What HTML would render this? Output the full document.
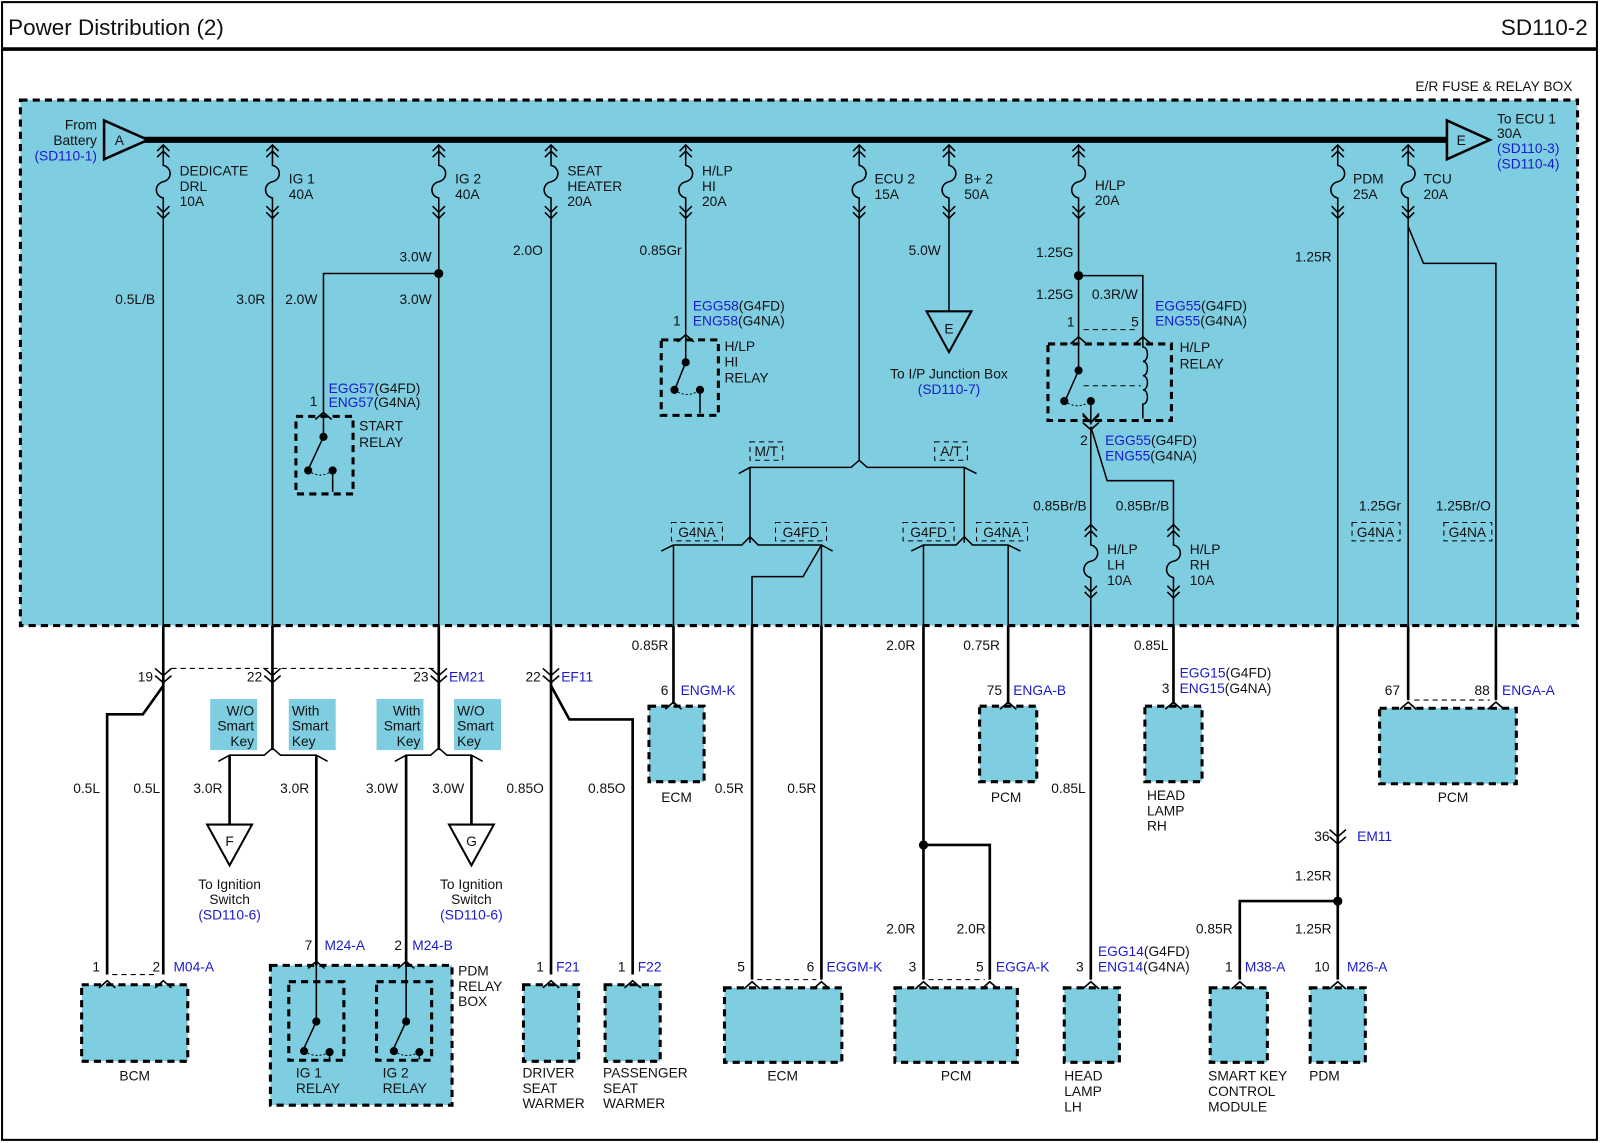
<!DOCTYPE html>
<html><head><meta charset="utf-8">
<style>
html,body{margin:0;padding:0;background:#fff;}
svg{display:block;}
text{font-family:"Liberation Sans",Arial,sans-serif;font-size:13.5px;fill:#111;}
.b{fill:#1a1acc;}
.r{text-anchor:end;}
.c{text-anchor:middle;}
.t{stroke:#000;stroke-width:1.5;fill:none;}
.k{stroke:#000;stroke-width:2.6;fill:none;}
.box{fill:#7ecde0;stroke:#000;stroke-width:3;stroke-dasharray:7,5;}
.ibox{fill:none;stroke:#000;stroke-width:3;stroke-dasharray:7,5;}
.lb{fill:none;stroke:#000;stroke-width:1;stroke-dasharray:5,4;}
.dl{stroke:#000;stroke-width:1;stroke-dasharray:5,4;fill:none;}
</style></head><body>
<svg width="1600" height="1143" viewBox="0 0 1568 1120" xmlns="http://www.w3.org/2000/svg">
<defs>
<g id="fz" fill="none" stroke="#000" stroke-width="1.5">
<path d="M-6,6 L0,0 L6,6 M-6,12 L0,6 L6,12 M0,0 V20 C9,22 9,34 0,36 C-9,38 -9,50 0,52 V74 M-6,60 L0,66 L6,60 M-6,66 L0,72 L6,66"/>
</g>
<g id="mv" fill="none" stroke="#000" stroke-width="1.6">
<path d="M-8,-7 L0,0 L8,-7 M-8,0 L0,7 L8,0"/>
</g>
<g id="fu" fill="none" stroke="#000" stroke-width="1.6">
<path d="M-8,7 L0,0 L8,7"/>
</g>
</defs>
<rect x="0" y="0" width="1568" height="1120" fill="#fff"/>
<rect x="2" y="2" width="1563" height="1115" fill="none" stroke="#000" stroke-width="2"/>
<line x1="2" y1="48" x2="1565" y2="48" stroke="#000" stroke-width="3.5"/>
<text x="8" y="34" style="font-size:22px">Power Distribution (2)</text>
<text x="1556" y="34" class="r" style="font-size:22px">SD110-2</text>
<text x="1541" y="89" class="r">E/R FUSE &amp; RELAY BOX</text>

<rect x="20" y="98" width="1526" height="515" class="box"/>

<line x1="140" y1="137" x2="1420" y2="137" stroke="#000" stroke-width="6"/>
<polygon points="102,118 102,156 145,137" fill="#7ecde0" stroke="#000" stroke-width="2.5"/>
<text x="117" y="142" class="c">A</text>
<polygon points="1418,118 1418,156 1460,137" fill="#7ecde0" stroke="#000" stroke-width="2.5"/>
<text x="1432" y="142" class="c">E</text>
<text x="95" y="127" class="r">From</text>
<text x="95" y="142" class="r">Battery</text>
<text x="95" y="157" class="r b">(SD110-1)</text>
<text x="1467" y="121">To ECU 1</text>
<text x="1467" y="135">30A</text>
<text x="1467" y="150" class="b">(SD110-3)</text>
<text x="1467" y="165" class="b">(SD110-4)</text>

<use href="#fz" x="160" y="142"/><use href="#fz" x="267" y="142"/><use href="#fz" x="430" y="142"/>
<use href="#fz" x="540" y="142"/><use href="#fz" x="672" y="142"/><use href="#fz" x="842" y="142"/>
<use href="#fz" x="930" y="142"/><use href="#fz" x="1057" y="142"/><use href="#fz" x="1311" y="142"/>
<use href="#fz" x="1380" y="142"/>
<use href="#fz" x="1069" y="514"/><use href="#fz" x="1150" y="514"/>

<text x="176" y="172">DEDICATE</text><text x="176" y="187">DRL</text><text x="176" y="202">10A</text>
<text x="283" y="180">IG 1</text><text x="283" y="195">40A</text>
<text x="446" y="180">IG 2</text><text x="446" y="195">40A</text>
<text x="556" y="172">SEAT</text><text x="556" y="187">HEATER</text><text x="556" y="202">20A</text>
<text x="688" y="172">H/LP</text><text x="688" y="187">HI</text><text x="688" y="202">20A</text>
<text x="857" y="180">ECU 2</text><text x="857" y="195">15A</text>
<text x="945" y="180">B+ 2</text><text x="945" y="195">50A</text>
<text x="1073" y="186">H/LP</text><text x="1073" y="201">20A</text>
<text x="1326" y="180">PDM</text><text x="1326" y="195">25A</text>
<text x="1395" y="180">TCU</text><text x="1395" y="195">20A</text>
<text x="1085" y="543">H/LP</text><text x="1085" y="558">LH</text><text x="1085" y="573">10A</text>
<text x="1166" y="543">H/LP</text><text x="1166" y="558">RH</text><text x="1166" y="573">10A</text>

<path class="t" d="M160,216 V613 M267,216 V613 M430,216 V613 M540,216 V613"/>
<text x="152" y="298" class="r">0.5L/B</text>
<text x="260" y="298" class="r">3.0R</text>
<text x="311" y="298" class="r">2.0W</text>
<text x="423" y="256" class="r">3.0W</text>
<text x="423" y="298" class="r">3.0W</text>
<text x="532" y="250" class="r">2.0O</text>
<circle cx="430" cy="268" r="4.5"/>
<path class="t" d="M430,268 H317 V406"/>
<text x="311" y="398" class="r">1</text>
<text x="322" y="385"><tspan class="b">EGG57</tspan>(G4FD)</text>
<text x="322" y="399"><tspan class="b">ENG57</tspan>(G4NA)</text>
<rect x="290" y="408" width="56" height="76" class="ibox"/>
<use href="#fu" x="317" y="404"/>
<path class="t" d="M317,404 V428 L303,458 M326,461 V482"/>
<path d="M302,461 Q314,470 326,461" stroke="#000" stroke-width="1" stroke-dasharray="2,2" fill="none"/>
<circle cx="317" cy="428" r="4"/><circle cx="302" cy="461" r="4"/><circle cx="326" cy="461" r="4"/>
<text x="352" y="422">START</text><text x="352" y="438">RELAY</text>

<path class="t" d="M672,216 V330"/>
<text x="668" y="250" class="r">0.85Gr</text>
<text x="667" y="319" class="r">1</text>
<text x="679" y="304"><tspan class="b">EGG58</tspan>(G4FD)</text>
<text x="679" y="319"><tspan class="b">ENG58</tspan>(G4NA)</text>
<rect x="648" y="333" width="56" height="74" class="ibox"/>
<use href="#fu" x="672" y="328"/>
<path class="t" d="M672,330 V355 L662,380 M686,382 V405"/>
<path d="M661,382 Q673,391 686,382" stroke="#000" stroke-width="1" stroke-dasharray="2,2" fill="none"/>
<circle cx="672" cy="355" r="4"/><circle cx="661" cy="382" r="4"/><circle cx="686" cy="382" r="4"/>
<text x="710" y="344">H/LP</text><text x="710" y="359">HI</text><text x="710" y="375">RELAY</text>

<path class="t" d="M842,216 V451 L834,458 H735 L724,464 M850,458 L842,451 M850,458 H945 L957,464 M735,458 V532 M945,458 V532"/>
<rect x="735" y="433" width="32" height="18" class="lb"/><text x="751" y="447" class="c">M/T</text>
<rect x="916" y="433" width="32" height="18" class="lb"/><text x="932" y="447" class="c">A/T</text>
<path class="t" d="M735,526 L727,534 H660 L648,540 M735,526 L743,534 H805 L816,540 M660,534 V613 M805,534 V613 M805,534 L787,565 H737 V613"/>
<rect x="658" y="512" width="50" height="18" class="lb"/><text x="683" y="526" class="c">G4NA</text>
<rect x="760" y="512" width="50" height="18" class="lb"/><text x="785" y="526" class="c">G4FD</text>
<path class="t" d="M945,526 L937,534 H905 L893,540 M945,526 L953,534 H988 L1000,540 M905,534 V613 M988,534 V613"/>
<rect x="885" y="512" width="50" height="18" class="lb"/><text x="910" y="526" class="c">G4FD</text>
<rect x="957" y="512" width="50" height="18" class="lb"/><text x="982" y="526" class="c">G4NA</text>

<path class="t" d="M930,216 V305"/>
<text x="922" y="250" class="r">5.0W</text>
<polygon points="908,305 952,305 930,345" fill="#7ecde0" stroke="#000" stroke-width="2"/>
<text x="930" y="327" class="c">E</text>
<text x="930" y="371" class="c">To I/P Junction Box</text>
<text x="930" y="386" class="c b">(SD110-7)</text>

<path class="t" d="M1057,216 V330 M1057,270 H1120 V330"/>
<circle cx="1057" cy="270" r="4.5"/>
<text x="1052" y="252" class="r">1.25G</text>
<text x="1052" y="293" class="r">1.25G</text>
<text x="1070" y="293">0.3R/W</text>
<text x="1053" y="320" class="r">1</text>
<text x="1116" y="320" class="r">5</text>
<text x="1132" y="304"><tspan class="b">EGG55</tspan>(G4FD)</text>
<text x="1132" y="319"><tspan class="b">ENG55</tspan>(G4NA)</text>
<line x1="1062" y1="323" x2="1115" y2="323" class="dl"/>
<rect x="1027" y="337" width="121" height="75" class="ibox"/>
<use href="#fu" x="1057" y="330"/><use href="#fu" x="1120" y="330"/>
<path class="t" d="M1057,330 V363 L1045,390 M1069,393 V416 M1120,330 V340 c6,0 6,14 0,14 c6,0 6,14 0,14 c6,0 6,14 0,14 c6,0 6,14 0,14 V410"/>
<path class="dl" d="M1062,378 H1118"/>
<path d="M1043,393 Q1056,402 1069,393" stroke="#000" stroke-width="1" stroke-dasharray="2,2" fill="none"/>
<circle cx="1057" cy="363" r="4"/><circle cx="1043" cy="393" r="4"/><circle cx="1069" cy="393" r="4"/>
<path d="M1061,405 L1069,414 L1077,405" stroke="#000" stroke-width="1.5" fill="none"/>
<use href="#mv" x="1069" y="414"/>
<text x="1156" y="345">H/LP</text><text x="1156" y="361">RELAY</text>
<text x="1066" y="436" class="r">2</text>
<text x="1083" y="436"><tspan class="b">EGG55</tspan>(G4FD)</text>
<text x="1083" y="451"><tspan class="b">ENG55</tspan>(G4NA)</text>
<path class="t" d="M1069,418 V514 M1069,418 L1085,471 H1150 V514 M1069,588 V613 M1150,588 V613"/>
<text x="1065" y="500" class="r">0.85Br/B</text>
<text x="1146" y="500" class="r">0.85Br/B</text>

<path class="t" d="M1311,216 V613 M1380,216 V613 M1380,222 L1395,258 H1466 V613"/>
<text x="1305" y="256" class="r">1.25R</text>
<text x="1373" y="500" class="r">1.25Gr</text>
<text x="1461" y="500" class="r">1.25Br/O</text>
<rect x="1325" y="512" width="47" height="18" class="lb"/><text x="1348" y="526" class="c">G4NA</text>
<rect x="1415" y="512" width="47" height="18" class="lb"/><text x="1438" y="526" class="c">G4NA</text>

<path class="k" d="M160,613 V955 M267,613 V735 M430,613 V735 M540,613 V955 M660,613 V690 M737,613 V960 M805,613 V960 M905,613 V960 M988,613 V690 M1069,613 V960 M1150,613 V690 M1311,613 V960 M1380,613 V686 M1466,613 V686"/>
<line x1="168" y1="655" x2="425" y2="655" class="dl"/>
<use href="#mv" x="160" y="662"/><use href="#mv" x="267" y="662"/><use href="#mv" x="430" y="662"/><use href="#mv" x="540" y="662"/>
<text x="150" y="668" class="r">19</text>
<text x="257" y="668" class="r">22</text>
<text x="420" y="668" class="r">23</text><text x="440" y="668" class="b">EM21</text>
<text x="530" y="668" class="r">22</text><text x="550" y="668" class="b">EF11</text>

<path class="k" d="M160,672 L140,700 H105 V955 M540,672 L558,705 H620 V955"/>
<text x="98" y="777" class="r">0.5L</text>
<text x="157" y="777" class="r">0.5L</text>
<text x="533" y="777" class="r">0.85O</text>
<text x="613" y="777" class="r">0.85O</text>

<path class="t" d="M267,733 L259,740 H225 L214,746 M267,733 L275,740 H310 L321,746"/>
<path class="k" d="M225,740 V808 M310,740 V955"/>
<path class="t" d="M430,733 L422,740 H398 L387,746 M430,733 L438,740 H462 L473,746"/>
<path class="k" d="M398,740 V955 M462,740 V808"/>
<rect x="206" y="685" width="46" height="50" fill="#7ecde0"/>
<rect x="283" y="685" width="46" height="50" fill="#7ecde0"/>
<rect x="369" y="685" width="46" height="50" fill="#7ecde0"/>
<rect x="445" y="685" width="46" height="50" fill="#7ecde0"/>
<text x="249" y="701" class="r">W/O</text><text x="249" y="716" class="r">Smart</text><text x="249" y="731" class="r">Key</text>
<text x="286" y="701">With</text><text x="286" y="716">Smart</text><text x="286" y="731">Key</text>
<text x="412" y="701" class="r">With</text><text x="412" y="716" class="r">Smart</text><text x="412" y="731" class="r">Key</text>
<text x="448" y="701">W/O</text><text x="448" y="716">Smart</text><text x="448" y="731">Key</text>
<text x="218" y="777" class="r">3.0R</text>
<text x="303" y="777" class="r">3.0R</text>
<text x="390" y="777" class="r">3.0W</text>
<text x="455" y="777" class="r">3.0W</text>
<polygon points="203,808 247,808 225,848" fill="#fff" stroke="#000" stroke-width="2"/>
<text x="225" y="829" class="c">F</text>
<text x="225" y="871" class="c">To Ignition</text><text x="225" y="886" class="c">Switch</text><text x="225" y="901" class="c b">(SD110-6)</text>
<polygon points="440,808 484,808 462,848" fill="#fff" stroke="#000" stroke-width="2"/>
<text x="462" y="829" class="c">G</text>
<text x="462" y="871" class="c">To Ignition</text><text x="462" y="886" class="c">Switch</text><text x="462" y="901" class="c b">(SD110-6)</text>

<text x="655" y="637" class="r">0.85R</text>
<text x="729" y="777" class="r">0.5R</text>
<text x="800" y="777" class="r">0.5R</text>
<text x="897" y="637" class="r">2.0R</text>
<text x="980" y="637" class="r">0.75R</text>
<text x="1145" y="637" class="r">0.85L</text>
<text x="1064" y="777" class="r">0.85L</text>
<text x="655" y="681" class="r">6</text><text x="667" y="681" class="b">ENGM-K</text>
<rect x="636" y="692" width="54" height="74" class="box"/>
<use href="#fu" x="660" y="688"/>
<text x="663" y="786" class="c">ECM</text>
<text x="982" y="681" class="r">75</text><text x="993" y="681" class="b">ENGA-B</text>
<rect x="960" y="692" width="56" height="74" class="box"/>
<use href="#fu" x="988" y="688"/>
<text x="986" y="786" class="c">PCM</text>
<text x="1146" y="679" class="r">3</text>
<text x="1156" y="664"><tspan class="b">EGG15</tspan>(G4FD)</text>
<text x="1156" y="679"><tspan class="b">ENG15</tspan>(G4NA)</text>
<rect x="1122" y="692" width="56" height="74" class="box"/>
<use href="#fu" x="1150" y="688"/>
<text x="1124" y="784">HEAD</text><text x="1124" y="799">LAMP</text><text x="1124" y="814">RH</text>
<text x="1372" y="681" class="r">67</text>
<text x="1460" y="681" class="r">88</text><text x="1472" y="681" class="b">ENGA-A</text>
<line x1="1386" y1="686" x2="1460" y2="686" class="dl"/>
<rect x="1352" y="694" width="134" height="74" class="box"/>
<use href="#fu" x="1380" y="688"/><use href="#fu" x="1466" y="688"/>
<text x="1424" y="786" class="c">PCM</text>

<circle cx="905" cy="828" r="4.5"/>
<path class="k" d="M905,828 H970 V960"/>
<text x="897" y="915" class="r">2.0R</text>
<text x="966" y="915" class="r">2.0R</text>

<use href="#mv" x="1311" y="820"/>
<text x="1303" y="824" class="r">36</text><text x="1330" y="824" class="b">EM11</text>
<text x="1305" y="863" class="r">1.25R</text>
<circle cx="1311" cy="883" r="4.5"/>
<path class="k" d="M1311,883 H1215 V960"/>
<text x="1208" y="915" class="r">0.85R</text>
<text x="1305" y="915" class="r">1.25R</text>

<line x1="110" y1="955" x2="155" y2="955" class="dl"/>
<text x="98" y="952" class="r">1</text><text x="157" y="952" class="r">2</text><text x="170" y="952" class="b">M04-A</text>
<rect x="80" y="965" width="104" height="75" class="box"/>
<use href="#fu" x="105" y="961"/><use href="#fu" x="160" y="961"/>
<text x="132" y="1059" class="c">BCM</text>

<text x="306" y="931" class="r">7</text><text x="318" y="931" class="b">M24-A</text>
<text x="394" y="931" class="r">2</text><text x="404" y="931" class="b">M24-B</text>
<rect x="265" y="946" width="178" height="137" class="box"/>
<use href="#fu" x="310" y="942"/><use href="#fu" x="398" y="942"/>
<rect x="283" y="962" width="54" height="77" class="ibox"/>
<rect x="369" y="962" width="54" height="77" class="ibox"/>
<path class="t" d="M310,942 V1001 L298,1027 M398,942 V1001 L386,1027"/>
<path class="t" d="M323,1031 V1038 M411,1031 V1038"/>
<path d="M298,1030 Q310,1038 323,1031 M386,1030 Q398,1038 411,1031" stroke="#000" stroke-width="1" stroke-dasharray="2,2" fill="none"/>
<circle cx="310" cy="1001" r="4"/><circle cx="298" cy="1030" r="4"/><circle cx="323" cy="1031" r="4"/>
<circle cx="398" cy="1001" r="4"/><circle cx="386" cy="1030" r="4"/><circle cx="411" cy="1031" r="4"/>
<text x="290" y="1056">IG 1</text><text x="290" y="1071">RELAY</text>
<text x="375" y="1056">IG 2</text><text x="375" y="1071">RELAY</text>
<text x="449" y="956">PDM</text><text x="449" y="971">RELAY</text><text x="449" y="986">BOX</text>

<text x="533" y="952" class="r">1</text><text x="545" y="952" class="b">F21</text>
<rect x="513" y="965" width="54" height="75" class="box"/>
<use href="#fu" x="540" y="961"/>
<text x="512" y="1056">DRIVER</text><text x="512" y="1071">SEAT</text><text x="512" y="1086">WARMER</text>
<text x="613" y="952" class="r">1</text><text x="625" y="952" class="b">F22</text>
<rect x="593" y="965" width="54" height="75" class="box"/>
<use href="#fu" x="620" y="961"/>
<text x="591" y="1056">PASSENGER</text><text x="591" y="1071">SEAT</text><text x="591" y="1086">WARMER</text>

<line x1="742" y1="960" x2="800" y2="960" class="dl"/>
<text x="730" y="952" class="r">5</text><text x="798" y="952" class="r">6</text><text x="810" y="952" class="b">EGGM-K</text>
<rect x="710" y="968" width="115" height="73" class="box"/>
<use href="#fu" x="737" y="962"/><use href="#fu" x="805" y="962"/>
<text x="767" y="1059" class="c">ECM</text>

<line x1="910" y1="960" x2="965" y2="960" class="dl"/>
<text x="898" y="952" class="r">3</text><text x="964" y="952" class="r">5</text><text x="976" y="952" class="b">EGGA-K</text>
<rect x="877" y="968" width="120" height="73" class="box"/>
<use href="#fu" x="905" y="962"/><use href="#fu" x="970" y="962"/>
<text x="937" y="1059" class="c">PCM</text>

<text x="1062" y="952" class="r">3</text>
<text x="1076" y="937"><tspan class="b">EGG14</tspan>(G4FD)</text>
<text x="1076" y="952"><tspan class="b">ENG14</tspan>(G4NA)</text>
<rect x="1043" y="968" width="54" height="73" class="box"/>
<use href="#fu" x="1069" y="962"/>
<text x="1043" y="1059">HEAD</text><text x="1043" y="1074">LAMP</text><text x="1043" y="1089">LH</text>

<text x="1208" y="952" class="r">1</text><text x="1220" y="952" class="b">M38-A</text>
<rect x="1186" y="968" width="56" height="73" class="box"/>
<use href="#fu" x="1215" y="962"/>
<text x="1184" y="1059">SMART KEY</text><text x="1184" y="1074">CONTROL</text><text x="1184" y="1089">MODULE</text>

<text x="1303" y="952" class="r">10</text><text x="1320" y="952" class="b">M26-A</text>
<rect x="1284" y="968" width="54" height="73" class="box"/>
<use href="#fu" x="1311" y="962"/>
<text x="1283" y="1059">PDM</text>
</svg>
</body></html>
